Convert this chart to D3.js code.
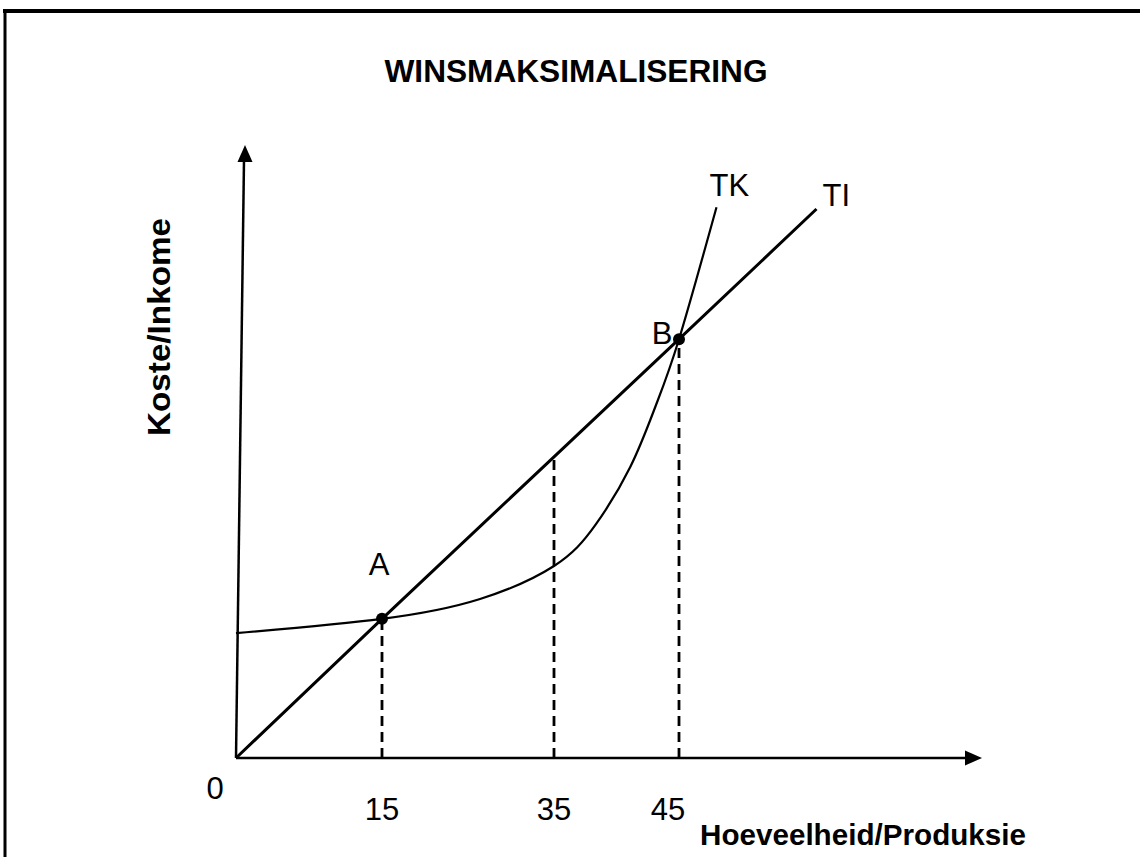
<!DOCTYPE html>
<html><head><meta charset="utf-8">
<script src="https://cdn.jsdelivr.net/npm/d3@7"></script>
<style>html,body{margin:0;padding:0;background:#fff;}svg{display:block;}</style>
</head><body>
<script>
// ---- data (schematic values) ----
const title = "WINSMAKSIMALISERING";
const xAxisLabel = "Hoeveelheid/Produksie";
const yAxisLabel = "Koste/Inkome";
const xTickValues = [15, 35, 45];
const xTickLabels = ["15", "35", "45"];
// Total revenue (TI): straight line through origin
const tiQuantity = [0, 15, 35, 45, 56];
const tiValue    = [0, 23.2, 50.2, 69.8, 91.5];
// Total cost (TK)
const tkQuantity = [0, 15, 26.4, 35, 38.3, 41.1, 43.1, 45, 48];
const tkValue    = [20.8, 23.2, 26.5, 32, 38.8, 48.5, 58.5, 69.8, 91.8];
// marked points
const pointNames    = ["A", "B"];
const pointQuantity = [15, 45];
const pointValue    = [23.2, 69.8];

const W = 1140, H = 857;
const svg = d3.select("body").append("svg").attr("width", W).attr("height", H);
const FONT = "Liberation Sans, Arial, Helvetica, sans-serif";

// schematic (not-to-scale) quantity axis -> polylinear scale
const x = d3.scaleLinear().domain([0, 15, 35, 45, 56]).range([236, 382, 554, 679, 816.5]);
const y = d3.scaleLinear().domain([0, 100]).range([758, 158]);

// frame
svg.append("line").attr("x1", 3).attr("x2", W).attr("y1", 11).attr("y2", 11)
  .attr("stroke", "#000").attr("stroke-width", 4);
svg.append("line").attr("x1", 5).attr("x2", 5).attr("y1", 9).attr("y2", H)
  .attr("stroke", "#000").attr("stroke-width", 3);

// title
svg.append("text").attr("x", 576).attr("y", 82).attr("text-anchor", "middle")
  .attr("font-family", FONT).attr("font-weight", "bold").attr("font-size", 31)
  .attr("textLength", 383).attr("lengthAdjust", "spacingAndGlyphs").text(title);

// axes
const x0 = x(0), y0 = y(0);
svg.append("line").attr("x1", x0).attr("y1", y0).attr("x2", 967).attr("y2", y0)
  .attr("stroke", "#000").attr("stroke-width", 2.5);
svg.append("path").attr("d", `M982,${y0} L965,${y0 - 7.5} L965,${y0 + 7.5} Z`).attr("fill", "#000");
svg.append("line").attr("x1", x0).attr("y1", y0).attr("x2", 244).attr("y2", 160)
  .attr("stroke", "#000").attr("stroke-width", 2.5);
svg.append("path").attr("d", `M245,145 L237.5,162 L252.5,162 Z`).attr("fill", "#000");

// dashed drops
svg.selectAll("line.drop").data(xTickValues).enter().append("line")
  .attr("class", "drop")
  .attr("x1", d => x(d)).attr("x2", d => x(d))
  .attr("y1", y0)
  .attr("y2", d => y(tiValue[tiQuantity.indexOf(d)]))
  .attr("stroke", "#000").attr("stroke-width", 2.8).attr("stroke-dasharray", "10,6");

// TI line
const tiData = tiQuantity.map((q, i) => [q, tiValue[i]]);
svg.append("path").datum(tiData)
  .attr("d", d3.line().x(d => x(d[0])).y(d => y(d[1])))
  .attr("fill", "none").attr("stroke", "#000").attr("stroke-width", 3);

// TK curve
const tkData = tkQuantity.map((q, i) => [q, tkValue[i]]);
svg.append("path").datum(tkData)
  .attr("d", d3.line().curve(d3.curveNatural).x(d => x(d[0])).y(d => y(d[1])))
  .attr("fill", "none").attr("stroke", "#000").attr("stroke-width", 2.2);

// points
svg.selectAll("circle.pt").data(pointQuantity).enter().append("circle")
  .attr("cx", d => x(d)).attr("cy", (d, i) => y(pointValue[i])).attr("r", 6).attr("fill", "#000");

// labels
const reg = (t, xx, yy, anchor) => svg.append("text").attr("x", xx).attr("y", yy)
  .attr("text-anchor", anchor || "start").attr("font-family", FONT)
  .attr("font-size", 31).text(t);

reg(pointNames[0], x(pointQuantity[0]) - 3, 575, "middle");
reg(pointNames[1], x(pointQuantity[1]) - 17, 344, "middle");
reg("TK", x(48) - 7, 196);
reg("TI", x(56) + 6, 206);
reg("0", x(0) - 21, 799, "middle");

svg.selectAll("text.tick").data(xTickValues).enter().append("text")
  .attr("class", "tick")
  .attr("x", d => x(d) - (d === 45 ? 11 : 0)).attr("y", 820)
  .attr("text-anchor", "middle").attr("font-family", FONT).attr("font-size", 31)
  .text((d, i) => xTickLabels[i]);

// axis titles
svg.append("text").attr("x", 700).attr("y", 845)
  .attr("font-family", FONT).attr("font-weight", "bold").attr("font-size", 29.5)
  .attr("textLength", 326).attr("lengthAdjust", "spacingAndGlyphs").text(xAxisLabel);

svg.append("text").attr("transform", "translate(170,436) rotate(-90)")
  .attr("font-family", FONT).attr("font-weight", "bold").attr("font-size", 31)
  .attr("textLength", 218).attr("lengthAdjust", "spacingAndGlyphs").text(yAxisLabel);
</script>
</body></html>
